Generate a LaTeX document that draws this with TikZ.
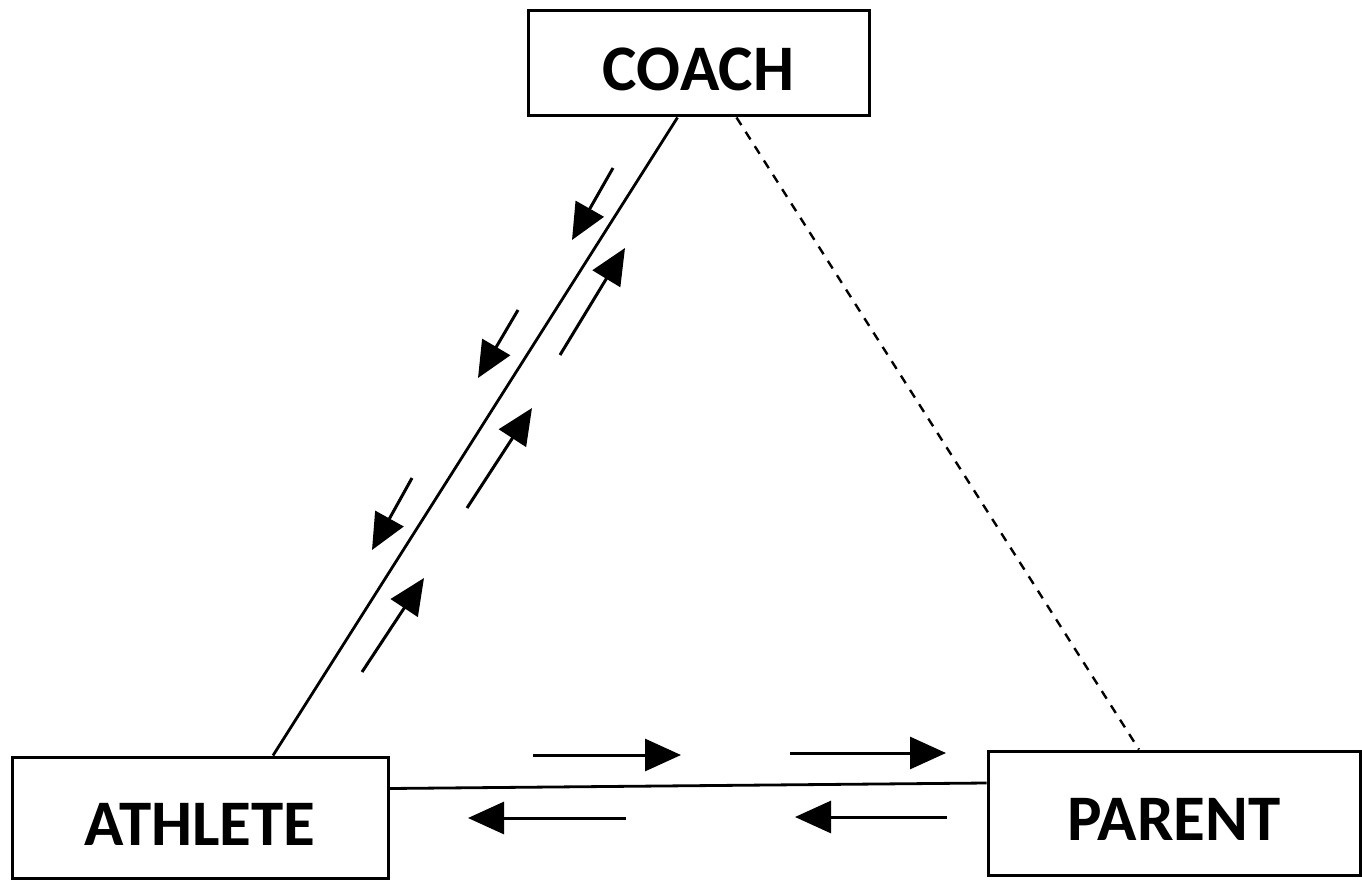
\documentclass[tikz,border=0pt]{standalone}
\usepackage{fontspec}
\setmainfont{Carlito}
\usetikzlibrary{arrows.meta}

\begin{document}
\begin{tikzpicture}[x = 1pt, y = -1pt, line width = 2.8pt,
                        party/.style = {rectangle, draw, line width = 3pt, inner sep = 0pt,
                                        font = \fontsize{65}{78}\selectfont\bfseries,
                                        text height = 55pt, text depth = 0pt},
                        flow/.style = {line width = 3pt, -{Triangle[length = 36pt, width = 32pt]}}]
      \fill [white] (0, 0) rectangle (1362, 880);

      \node [party, minimum width = 341pt, minimum height = 105pt] (coach) at (698.5, 63.5){COACH};
      \node [party, minimum width = 376pt, minimum height = 121pt] (athlete) at (200, 817.5){ATHLETE};
      \node [party, minimum width = 372pt, minimum height = 124pt] (parent) at (1174, 813){PARENT};

      \draw ([xshift = -21pt]coach.south) -- ([xshift = 73pt]athlete.north);
      \draw [dashed, line width = 2.4pt, dash pattern = on 9pt off 8pt]
            ([xshift = 38pt]coach.south) -- ([xshift = -35pt]parent.north);
      \draw ([yshift = 29pt]athlete.east) -- ([yshift = 30pt]parent.west);

      % coach <-> athlete
      \draw [flow] (613, 168) -- (572, 240);
      \draw [flow] (518, 310) -- (478, 378);
      \draw [flow] (412, 478) -- (372, 550);
      \draw [flow] (560, 355) -- (625, 248);
      \draw [flow] (467, 508) -- (532, 408);
      \draw [flow] (362, 672) -- (424, 578);

      % athlete <-> parent
      \draw [flow] (533, 755) -- (681, 755);
      \draw [flow] (790, 753) -- (946, 753);
      \draw [flow] (626, 818) -- (468, 818);
      \draw [flow] (947, 817) -- (795, 817);

      \end{tikzpicture}
\end{document}
